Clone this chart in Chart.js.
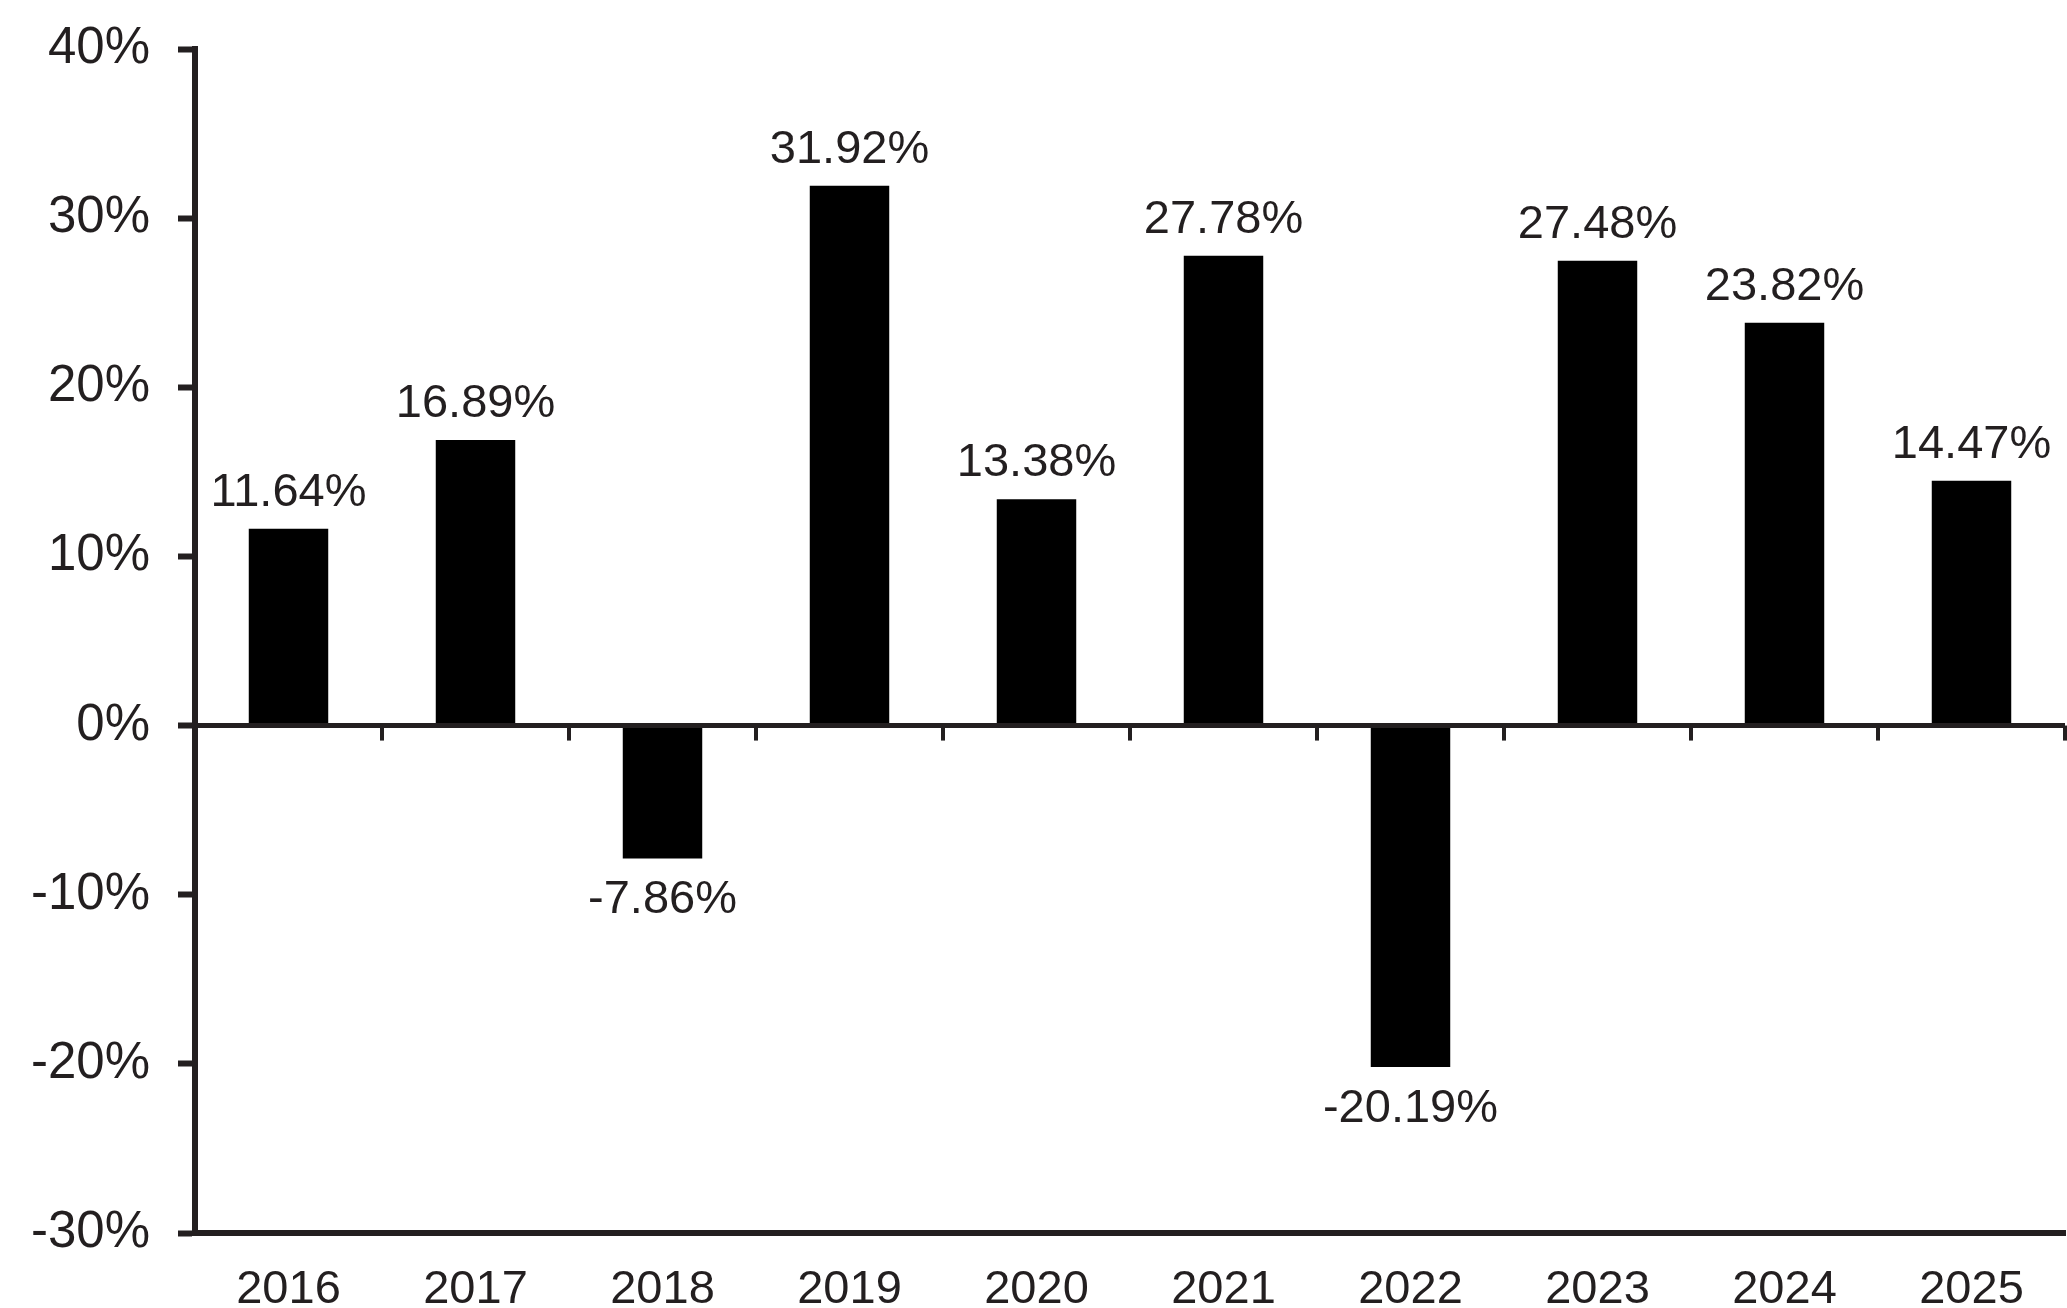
<!DOCTYPE html>
<html>
<head>
<meta charset="utf-8">
<script src="https://cdn.jsdelivr.net/npm/chart.js@4"></script>
<style>
html,body{margin:0;padding:0;background:#fff;}
#wrap{width:2067px;height:1308px;position:relative;}
</style>
</head>
<body>
<div id="wrap"><canvas id="c" width="2067" height="1308"></canvas></div>
<script>
const categories = ['2016','2017','2018','2019','2020','2021','2022','2023','2024','2025'];
const returns = [11.64, 16.89, -7.86, 31.92, 13.38, 27.78, -20.19, 27.48, 23.82, 14.47];
const yTicks = [-30, -20, -10, 0, 10, 20, 30, 40];

const INK = '#231f20';
const FONT = 'Liberation Sans, Arial, sans-serif';

const zeroLinePlugin = {
  id: 'zeroLine',
  afterDatasetsDraw(chart) {
    const ctx = chart.ctx, x = chart.scales.x, y = chart.scales.y;
    const y0 = y.getPixelForValue(0);
    ctx.save();
    ctx.strokeStyle = INK;
    ctx.lineWidth = 5;
    ctx.beginPath();
    ctx.moveTo(chart.chartArea.left, y0);
    ctx.lineTo(chart.chartArea.right, y0);
    ctx.stroke();
    ctx.lineWidth = 4;
    for (let i = 0; i < categories.length; i++) {
      const px = Math.round(x.getPixelForValue(i) + (x.getPixelForValue(1) - x.getPixelForValue(0)) / 2);
      ctx.beginPath();
      ctx.moveTo(px, y0);
      ctx.lineTo(px, y0 + 15);
      ctx.stroke();
    }
    ctx.restore();
  }
};

const labelPlugin = {
  id: 'barLabels',
  afterDatasetsDraw(chart) {
    const ctx = chart.ctx;
    const meta = chart.getDatasetMeta(0);
    ctx.save();
    ctx.fillStyle = INK;
    ctx.font = '47px ' + FONT;
    ctx.textAlign = 'center';
    ctx.textBaseline = 'middle';
    meta.data.forEach((bar, i) => {
      const v = returns[i];
      const txt = v.toFixed(2) + '%';
      const ty = v >= 0 ? bar.y - 36 : bar.y + 42;
      ctx.fillText(txt, bar.x, ty);
    });
    ctx.restore();
  }
};

new Chart(document.getElementById('c'), {
  type: 'bar',
  data: {
    labels: categories,
    datasets: [{
      data: returns,
      backgroundColor: '#000000',
      borderWidth: 0,
      categoryPercentage: 1.0,
      barPercentage: 0.425
    }]
  },
  options: {
    responsive: false,
    animation: false,
    devicePixelRatio: 1,
    layout: { padding: { top: 49, right: 2, left: 0, bottom: 0 } },
    plugins: { legend: { display: false }, tooltip: { enabled: false } },
    scales: {
      x: {
        grid: { display: false },
        border: { display: true, color: INK, width: 6 },
        ticks: { color: INK, font: { family: FONT, size: 47 }, padding: 21 },
        afterFit(s) { s.height = 75; s.paddingLeft = 0; s.paddingRight = 0; }
      },
      y: {
        min: -30, max: 40,
        afterBuildTicks(s) { s.ticks = yTicks.map(v => ({ value: v })); },
        grid: { display: true, drawOnChartArea: false, drawTicks: true, tickLength: 17, tickWidth: 6, color: INK },
        border: { display: true, color: INK, width: 6 },
        ticks: { color: INK, font: { family: FONT, size: 51 }, padding: 28, callback: v => v + '%' },
        afterFit(s) { s.width = 195; s.paddingTop = 0; s.paddingBottom = 0; }
      }
    }
  },
  plugins: [zeroLinePlugin, labelPlugin]
});
</script>
</body>
</html>
